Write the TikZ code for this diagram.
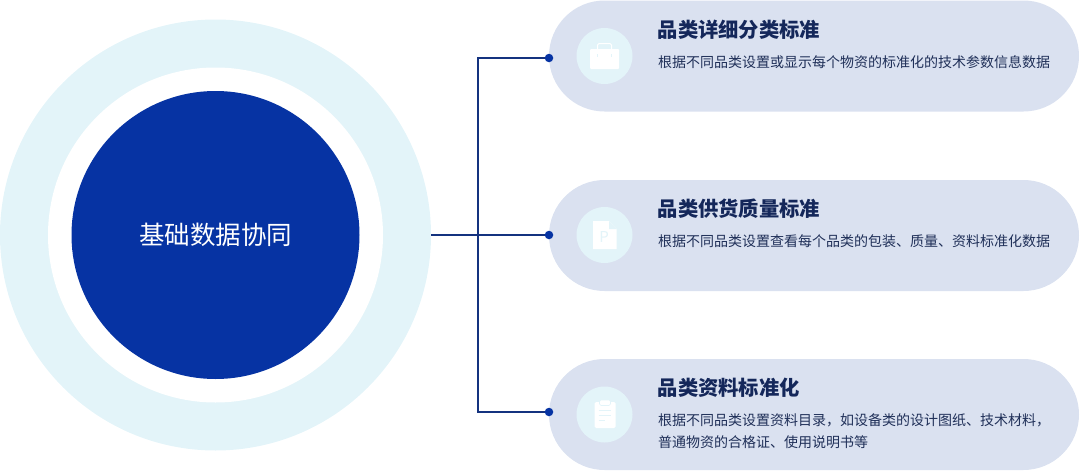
\documentclass[tikz,border=0pt]{standalone}
\usepackage{fontspec}
\setmainfont{Noto Sans CJK SC}
\usetikzlibrary{positioning}
\definecolor{hubblue}{HTML}{0633A3}
\definecolor{ringblue}{HTML}{E3F4F9}
\definecolor{pillblue}{HTML}{DAE1F0}
\definecolor{titleink}{HTML}{14275A}
\definecolor{bodyink}{HTML}{1F2F58}
\definecolor{lineblue}{HTML}{14327F}
\tikzset{
  pill/.style={fill=pillblue,minimum width=530pt,minimum height=111pt,rounded corners=55.5pt,inner sep=0pt},
  badge/.style={circle,fill=ringblue,minimum size=56pt,inner sep=0pt},
  dot/.style={circle,fill=hubblue,minimum size=8.5pt,inner sep=0pt},
  title/.style={anchor=west,inner sep=0pt,text=titleink,font=\fontsize{20.3}{21}\selectfont\bfseries},
  body/.style={anchor=west,inner sep=0pt,text=bodyink,font=\fontsize{14}{15}\selectfont},
  wire/.style={draw=lineblue,line width=1.1pt},
  icon/.style={fill=white,draw=none},
  iconline/.style={draw=ringblue,line width=.6pt}
}
\begin{document}
\begin{tikzpicture}[x=1pt,y=-1pt]
\useasboundingbox (0,0) rectangle (1080,471);
% rings
\node[circle,fill=ringblue,minimum size=431pt,inner sep=0pt] (ring) at (215.5,235) {};
\node[circle,fill=white,minimum size=335pt,inner sep=0pt] (gap) at (215.5,235) {};
\node[circle,fill=hubblue,minimum size=288pt,inner sep=0pt,text=white,font=\fontsize{25.5}{26}\selectfont] (hub) at (215.5,235) {基础数据协同};
% cards
\node[pill] (cardA) at (814,56) {};
\node[pill] (cardB) at (814,235.5) {};
\node[pill] (cardC) at (814,414.5) {};
\node[badge] (badgeA) at (604.5,56) {};
\node[badge] (badgeB) at (604.5,235) {};
\node[badge] (badgeC) at (604.5,414.5) {};
% wires
\node[dot] (dotA) at (549,58) {};
\node[dot] (dotB) at (549,235) {};
\node[dot] (dotC) at (549,412) {};
\coordinate (fork) at (478,235);
\draw[wire] (ring.east) -- (dotB);
\draw[wire] (dotA) -| (fork) |- (dotC);
% texts
\node[title] (titleA) at (657.5,30) {品类详细分类标准};
\node[body] (bodyA) at (658,62) {根据不同品类设置或显示每个物资的标准化的技术参数信息数据};
\node[title] (titleB) at (657.5,209) {品类供货质量标准};
\node[body] (bodyB) at (658,241) {根据不同品类设置查看每个品类的包装、质量、资料标准化数据};
\node[title] (titleC) at (657.5,388) {品类资料标准化};
\node[body] (bodyC) at (658,420.5) {根据不同品类设置资料目录，如设备类的设计图纸、技术材料，};
\node[body] (bodyD) at (658,442) {普通物资的合格证、使用说明书等};
% icon case
\draw[white,line width=1pt,rounded corners=1.5pt] (597.5,49) -- (597.5,43.5) -- (611.5,43.5) -- (611.5,49);
\path[icon,rounded corners=1pt] (590,49) rectangle (619,69);
\draw[iconline] (597.5,54) -- (597.5,57) (611.5,54) -- (611.5,57);
% icon page
\path[icon] (593,221) -- (609,221) -- (616.5,229) -- (616.5,249) -- (593,249) -- cycle;
\path[fill=ringblue] (609,221) -- (616.5,229) -- (609,229) -- cycle;
\node[text=ringblue,inner sep=0pt,font=\fontsize{15}{15}\selectfont] (pageP) at (604,237.5) {P};
% icon clipboard
\path[icon,rounded corners=1.5pt] (594.5,402) rectangle (615.5,428);
\path[icon,rounded corners=1.5pt,draw=ringblue,line width=.6pt] (599.5,400) rectangle (610.5,405.5);
\draw[iconline] (598.5,410.5) -- (611,410.5) (598.5,415.5) -- (611,415.5) (598.5,420.5) -- (605,420.5);
\end{tikzpicture}
\end{document}
